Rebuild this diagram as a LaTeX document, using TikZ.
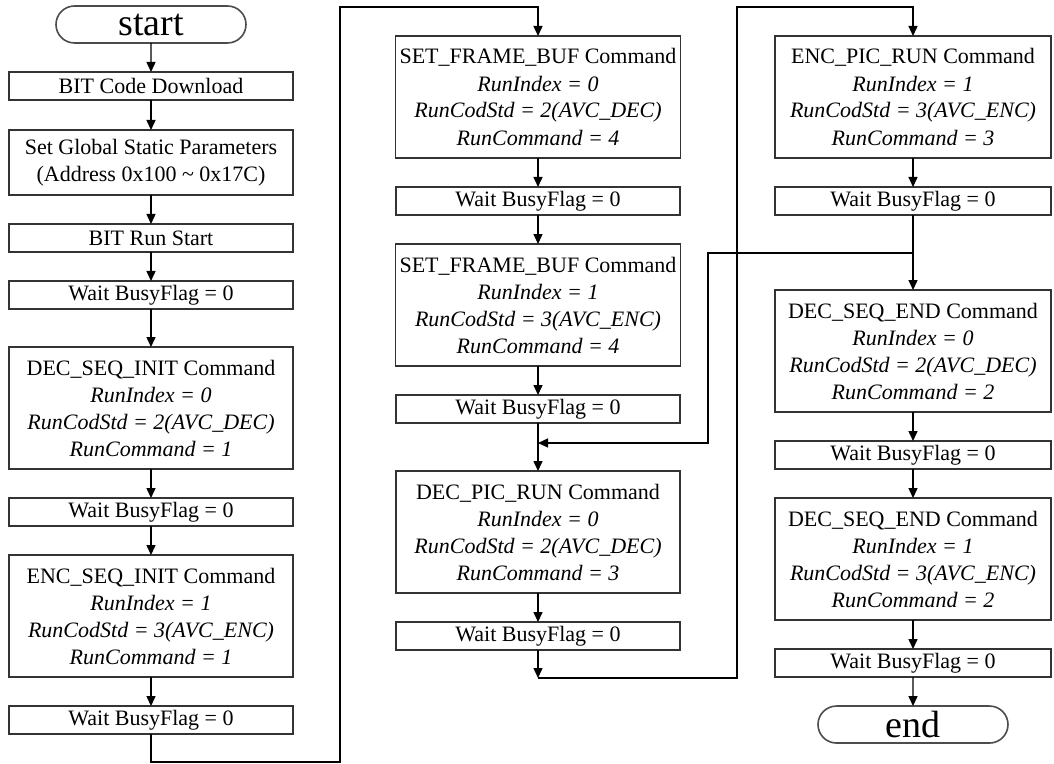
\documentclass[tikz,border=0pt]{standalone}
\usepackage{fontspec}
\setmainfont{Liberation Serif}
\usetikzlibrary{arrows.meta,positioning,shapes.misc}
\tikzset{
  stepbox/.style={draw=black!80, line width=0.8pt, outer sep=0pt, minimum width=142pt, minimum height=14pt, inner sep=2pt, align=center, font=\fontsize{11}{13.5}\selectfont},
  cmdbox/.style={stepbox, minimum height=61pt},
  narrow/.style={minimum width=138pt},
  termbox/.style={draw=black!70, line width=0.8pt, outer sep=0pt, rounded rectangle, minimum width=95pt, minimum height=18.5pt, inner sep=0pt, font=\fontsize{19}{20}\selectfont},
  flow/.style={-{Triangle[width=4.5pt,length=5pt]}, line width=0.7pt}
}

\begin{document}
\begin{tikzpicture}[x=0.5pt, y=-0.5pt, node distance=14.5pt]
      \useasboundingbox (0,0) rectangle (1054,764);
      % first column
      \node[termbox] (start) at (151,24.5) {start};
      \node[stepbox, below=of start] (bit) {BIT Code Download};
      \node[stepbox, minimum height=32.5pt, below=15pt of bit] (glob) {Set Global Static Parameters\\(Address 0x100 \textasciitilde{} 0x17C)};
      \node[stepbox, below=of glob] (run) {BIT Run Start};
      \node[stepbox, below=of run] (wait1) {Wait BusyFlag = 0};
      \node[cmdbox, below=19pt of wait1] (decinit) {DEC\_SEQ\_INIT Command\\\textit{RunIndex = 0}\\\textit{RunCodStd = 2(AVC\_DEC)}\\\textit{RunCommand = 1}};
      \node[stepbox, below=of decinit] (wait2) {Wait BusyFlag = 0};
      \node[cmdbox, below=of wait2] (encinit) {ENC\_SEQ\_INIT Command\\\textit{RunIndex = 1}\\\textit{RunCodStd = 3(AVC\_ENC)}\\\textit{RunCommand = 1}};
      \node[stepbox, below=of encinit] (wait3) {Wait BusyFlag = 0};
      % second column
      \node[cmdbox] (fbuf0) at (538,97) {SET\_FRAME\_BUF Command\\\textit{RunIndex = 0}\\\textit{RunCodStd = 2(AVC\_DEC)}\\\textit{RunCommand = 4}};
      \node[stepbox, below=of fbuf0] (wait4) {Wait BusyFlag = 0};
      \node[cmdbox, below=of wait4] (fbuf1) {SET\_FRAME\_BUF Command\\\textit{RunIndex = 1}\\\textit{RunCodStd = 3(AVC\_ENC)}\\\textit{RunCommand = 4}};
      \node[stepbox, below=of fbuf1] (wait5) {Wait BusyFlag = 0};
      \node[cmdbox, below=24pt of wait5] (decrun) {DEC\_PIC\_RUN Command\\\textit{RunIndex = 0}\\\textit{RunCodStd = 2(AVC\_DEC)}\\\textit{RunCommand = 3}};
      \node[stepbox, below=of decrun] (wait6) {Wait BusyFlag = 0};
      % third column
      \node[cmdbox, narrow] (encrun) at (913,97) {ENC\_PIC\_RUN Command\\\textit{RunIndex = 1}\\\textit{RunCodStd = 3(AVC\_ENC)}\\\textit{RunCommand = 3}};
      \node[stepbox, narrow, below=of encrun] (wait7) {Wait BusyFlag = 0};
      \node[cmdbox, narrow, below=37.5pt of wait7] (decend0) {DEC\_SEQ\_END Command\\\textit{RunIndex = 0}\\\textit{RunCodStd = 2(AVC\_DEC)}\\\textit{RunCommand = 2}};
      \node[stepbox, narrow, below=of decend0] (wait8) {Wait BusyFlag = 0};
      \node[cmdbox, narrow, below=of wait8] (decend1) {DEC\_SEQ\_END Command\\\textit{RunIndex = 1}\\\textit{RunCodStd = 3(AVC\_ENC)}\\\textit{RunCommand = 2}};
      \node[stepbox, narrow, below=of decend1] (wait9) {Wait BusyFlag = 0};
      \node[termbox, below=of wait9] (stop) {end};
      % corners of the long connectors
      \coordinate (b1) at (340,762);
      \coordinate (t1) at (340,7);
      \coordinate (b2) at (538,678);
      \coordinate (t2) at (737,7);
      \coordinate (j) at (913,253);
      \coordinate (lp) at (708,443);
      \coordinate (m) at (538,443);
      \draw[flow] (start) -- (bit);
      \draw[flow] (bit) -- (glob);
      \draw[flow] (glob) -- (run);
      \draw[flow] (run) -- (wait1);
      \draw[flow] (wait1) -- (decinit);
      \draw[flow] (decinit) -- (wait2);
      \draw[flow] (wait2) -- (encinit);
      \draw[flow] (encinit) -- (wait3);
      \draw[flow] (wait3.south) |- (b1) -- (t1) -| (fbuf0.north);
      \draw[flow] (fbuf0) -- (wait4);
      \draw[flow] (wait4) -- (fbuf1);
      \draw[flow] (fbuf1) -- (wait5);
      \draw[flow] (wait5) -- (decrun);
      \draw[flow] (decrun) -- (wait6);
      \draw[flow] (wait6) -- (b2);
      \draw[flow] (b2) -| (t2) -| (encrun.north);
      \draw[flow] (encrun) -- (wait7);
      \draw[flow] (wait7) -- (decend0);
      \draw[flow] (j) -| (lp) -- (m);
      \draw[flow] (decend0) -- (wait8);
      \draw[flow] (wait8) -- (decend1);
      \draw[flow] (decend1) -- (wait9);
      \draw[flow] (wait9) -- (stop);
    \end{tikzpicture}
\end{document}
